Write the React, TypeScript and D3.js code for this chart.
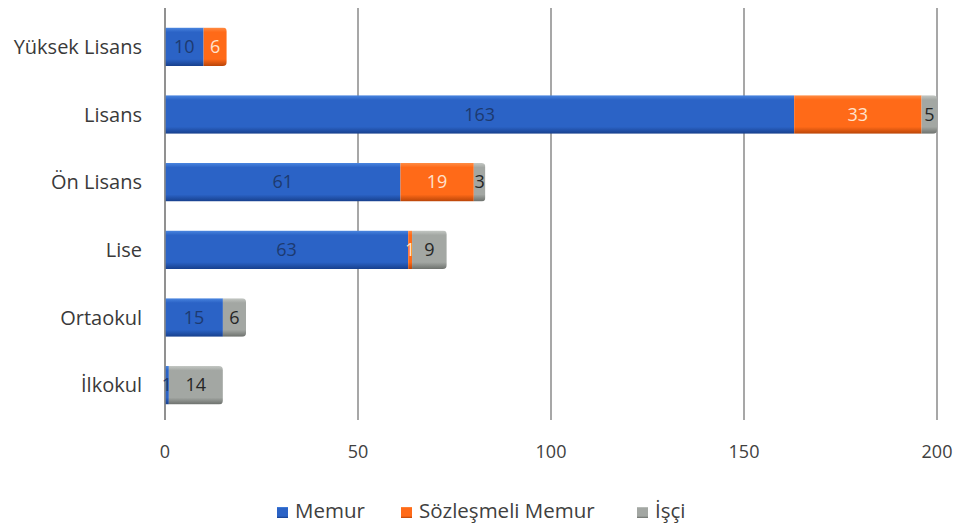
import React from 'react';
import * as d3 from 'd3';

const categories = ['Yüksek Lisans', 'Lisans', 'Ön Lisans', 'Lise', 'Ortaokul', 'İlkokul'];
const seriesNames = ['Memur', 'Sözleşmeli Memur', 'İşçi'];
const memur = [10, 163, 61, 63, 15, 1];
const sozlesmeli = [6, 33, 19, 1, 0, 0];
const isci = [0, 5, 3, 9, 6, 14];
const xTicks = [0, 50, 100, 150, 200];

const seriesValues = [memur, sozlesmeli, isci];
const colors = [
  { top: '#4a86e0', mid: '#2b63c6', bot: '#173f8c', text: '#1d3a70' },
  { top: '#ff8d45', mid: '#ff6a18', bot: '#b84408', text: '#ffe2cc' },
  { top: '#c4c8c4', mid: '#a3a7a3', bot: '#6c706c', text: '#262626' },
];

const W = 956;
const H = 525;
const margin = { top: 13, left: 165 };
const font = '"Open Sans", Lato, sans-serif';

export default function App() {
  const x = d3.scaleLinear().domain([0, 200]).range([margin.left, 937]);
  const y = d3
    .scaleBand<string>()
    .domain(categories)
    .range([margin.top, 419])
    .paddingInner(0.43)
    .paddingOuter(0.215);

  const rows = categories.map((cat, i) => {
    let acc = 0;
    const segs = seriesValues.map((vals, s) => {
      const v = vals[i];
      const x0 = x(Math.min(acc, 200));
      acc += v;
      const x1 = x(Math.min(acc, 200));
      return { s, v, x0, x1 };
    });
    return { cat, i, segs, end: x(Math.min(acc, 200)) };
  });

  const bh = y.bandwidth();

  return (
    <svg width={W} height={H} style={{ position: 'absolute', left: 0, top: 0, background: '#fff' }}>
      <defs>
        {colors.map((c, s) => (
          <linearGradient key={s} id={`g${s}`} x1="0" y1="0" x2="0" y2="1">
            <stop offset="0%" stopColor={c.top} />
            <stop offset="12%" stopColor={c.mid} />
            <stop offset="82%" stopColor={c.mid} />
            <stop offset="100%" stopColor={c.bot} />
          </linearGradient>
        ))}
        {rows.map((r) => (
          <clipPath key={r.i} id={`c${r.i}`}>
            <rect x={margin.left - 6} y={y(r.cat)} width={r.end - margin.left + 6} height={bh} rx={4} />
          </clipPath>
        ))}
      </defs>

      {/* gridlines */}
      {xTicks.map((t) => (
        <line key={t} x1={x(t)} x2={x(t)} y1={8} y2={420} stroke="#8a8a8a" strokeWidth={1.5} />
      ))}

      {/* bars */}
      {rows.map((r) => (
        <g key={r.cat} clipPath={`url(#c${r.i})`}>
          {r.segs
            .filter((d) => d.v > 0)
            .map((d) => (
              <rect
                key={d.s}
                x={d.x0}
                y={y(r.cat)}
                width={Math.max(0, d.x1 - d.x0)}
                height={bh}
                fill={`url(#g${d.s})`}
              />
            ))}
        </g>
      ))}
      <line x1={x(0)} x2={x(0)} y1={8} y2={420} stroke="#8a8a8a" strokeWidth={1.5} />

      {/* value labels */}
      {rows.map((r) =>
        r.segs
          .filter((d) => d.v > 0)
          .map((d) => (
            <text
              key={`${r.cat}-${d.s}`}
              x={(d.x0 + d.x1) / 2}
              y={(y(r.cat) ?? 0) + bh / 2}
              dy="0.35em"
              textAnchor="middle"
              fontFamily={font}
              fontSize={18}
              fill={colors[d.s].text}
            >
              {d.v}
            </text>
          ))
      )}

      {/* category labels */}
      {categories.map((c) => (
        <text
          key={c}
          x={142}
          y={(y(c) ?? 0) + bh / 2}
          dy="0.35em"
          textAnchor="end"
          fontFamily={font}
          fontSize={20}
          fill="#3a3a3a"
        >
          {c}
        </text>
      ))}

      {/* x ticks */}
      {xTicks.map((t) => (
        <text key={t} x={x(t)} y={452} dy="0.35em" textAnchor="middle" fontFamily={font} fontSize={18} fill="#404040">
          {t}
        </text>
      ))}

      {/* legend */}
      {[283, 407, 643].map((lx, s) => (
        <g key={s}>
          <rect x={lx - 6} y={507} width={11} height={11} fill={`url(#g${s})`} />
          <text x={lx + 12} y={518} fontFamily={font} fontSize={20.5} fill="#404040">
            {seriesNames[s]}
          </text>
        </g>
      ))}
    </svg>
  );
}
